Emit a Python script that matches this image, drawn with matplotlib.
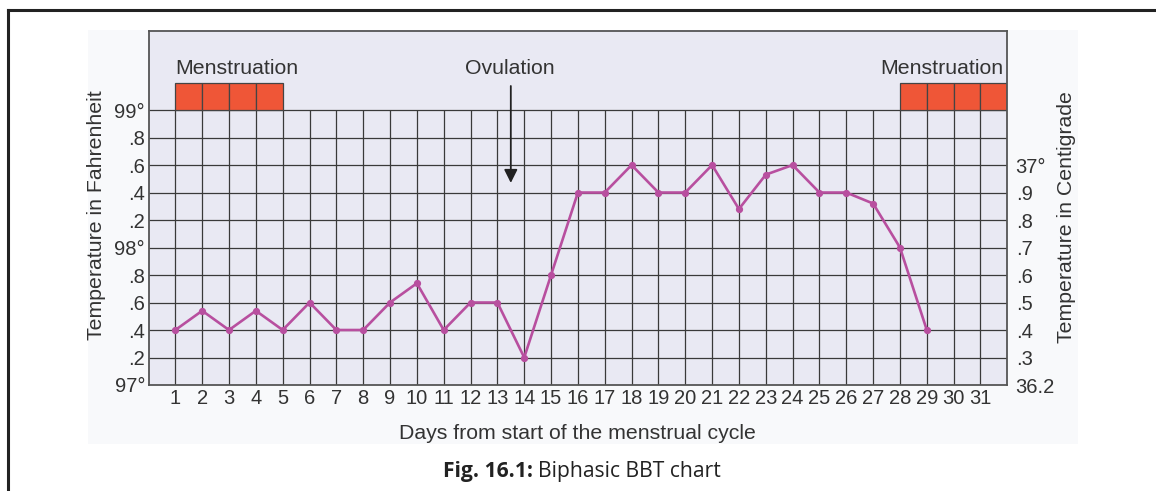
import matplotlib
matplotlib.use("Agg")
import matplotlib.pyplot as plt
from matplotlib.patches import Rectangle
from matplotlib.lines import Line2D

plt.rcParams["font.family"] = ["Liberation Sans", "DejaVu Sans"]

# Basal body temperature over one cycle (deg F)
days = list(range(1, 30))
temps_f = [97.4, 97.54, 97.4, 97.54, 97.4, 97.6, 97.4, 97.4, 97.6, 97.74,
           97.4, 97.6, 97.6, 97.2, 97.8, 98.4, 98.4, 98.6, 98.4, 98.4,
           98.6, 98.28, 98.53, 98.6, 98.4, 98.4, 98.32, 98.0, 97.4]

day_ticks = list(range(1, 32))
f_ticks = [97.0, 97.2, 97.4, 97.6, 97.8, 98.0, 98.2, 98.4, 98.6, 98.8, 99.0]
f_labels = ["97°", ".2", ".4", ".6", ".8", "98°", ".2", ".4", ".6", ".8", "99°"]
c_ticks = [97.0, 97.2, 97.4, 97.6, 97.8, 98.0, 98.2, 98.4, 98.6]
c_labels = ["36.2", ".3", ".4", ".5", ".6", ".7", ".8", ".9", "37°"]

menses_early = [1, 2, 3, 4]
menses_late = [28, 29, 30, 31]
ovulation_day = 13.5

LINE = "#b84f9f"
RED = "#ef5637"
GRID = "#3a3a3a"
FACE = "#e9e9f3"

W, H = 1156, 491
fig = plt.figure(figsize=(W / 100, H / 100), dpi=100)
fig.patch.set_facecolor("white")

# pale backing panel and the page frame (left + top rules)
fig.add_artist(Rectangle((88 / W, 1 - 444 / H), (1078 - 88) / W, (444 - 30) / H,
                         transform=fig.transFigure, facecolor="#f8f9fb",
                         edgecolor="none", zorder=0))
fig.add_artist(Line2D([8 / W, 8 / W], [0, 1 - 10 / H], transform=fig.transFigure,
                      color="#222222", lw=2.2))
fig.add_artist(Line2D([8 / W, 1], [1 - 10 / H, 1 - 10 / H], transform=fig.transFigure,
                      color="#222222", lw=2.2))

ax = fig.add_axes([148.5 / W, 1 - 385 / H, 858.8 / W, 354 / H])
ax.set_facecolor(FACE)
ax.set_xlim(0, 32)
ax.set_ylim(97.0, 99.575)

for s in ax.spines.values():
    s.set_color("#555555")
    s.set_linewidth(1.3)

# chart grid: only below the 99 deg line
ax.hlines(f_ticks[1:], 0, 32, color=GRID, lw=0.9, zorder=1)
ax.vlines(day_ticks, 97.0, 99.0, color=GRID, lw=0.9, zorder=1)

for d in menses_early + menses_late:
    ax.add_patch(Rectangle((d, 99.0), 1, 0.2, facecolor=RED,
                           edgecolor="#444444", lw=0.9, zorder=2))

ax.plot(days, temps_f, color=LINE, lw=1.9, marker="o", markersize=4.2,
        zorder=3, solid_joinstyle="round")

ax.text(menses_early[0], 99.305, "Menstruation", fontsize=15.3, color="#333333",
        ha="left", va="center")
ax.text(menses_late[-1] + 0.85, 99.305, "Menstruation", fontsize=15.3, color="#333333",
        ha="right", va="center")
ax.text(ovulation_day - 0.03, 99.305, "Ovulation", fontsize=15.3, color="#333333",
        ha="center", va="center")
ax.annotate("", xy=(ovulation_day, 98.47), xytext=(ovulation_day, 99.175),
            arrowprops=dict(arrowstyle="-|>", color="#222222", lw=1.3,
                            mutation_scale=20, shrinkA=0, shrinkB=0))

ax.set_xticks(day_ticks)
ax.set_xticklabels([str(d) for d in day_ticks])
ax.set_yticks(f_ticks)
ax.set_yticklabels(f_labels)
ax.tick_params(axis="both", length=0, labelsize=14.5, colors="#333333")
ax.tick_params(axis="x", pad=3)
ax.tick_params(axis="y", pad=2.5)

ax2 = ax.twinx()
ax2.set_ylim(ax.get_ylim())
ax2.set_yticks(c_ticks)
ax2.set_yticklabels(c_labels)
ax2.tick_params(axis="y", length=0, labelsize=14.5, pad=6, colors="#333333")
for s in ax2.spines.values():
    s.set_visible(False)

ax.set_xlabel("Days from start of the menstrual cycle", fontsize=15.3, color="#333333")
ax.xaxis.set_label_coords(0.499, -0.1356)
ax.xaxis.label.set_va("center")
ax.set_ylabel("Temperature in Fahrenheit", fontsize=15.3, color="#333333")
ax.yaxis.set_label_coords(-0.0611, 0.48)
ax.yaxis.label.set_va("center")
ax2.set_ylabel("Temperature in Centigrade", fontsize=15.3, color="#333333")
ax2.yaxis.set_label_coords(1.0684, 0.475)
ax2.yaxis.label.set_va("center")

# figure caption: bold lead-in followed by regular text
cap_font = ["Open Sans", "DejaVu Sans"]
cap_bold = fig.text(442.7 / W, 1 - 471.5 / H, "Fig. 16.1:", fontsize=15.2,
                    fontweight="bold", family=cap_font,
                    ha="left", va="center", color="#222222")
fig.canvas.draw()
bb = cap_bold.get_window_extent()
fig.text((bb.x1 + 5) / W, 1 - 471.5 / H, "Biphasic BBT chart", fontsize=15.2,
         family=cap_font, ha="left", va="center", color="#222222")

fig.savefig("out.png", dpi=100)
